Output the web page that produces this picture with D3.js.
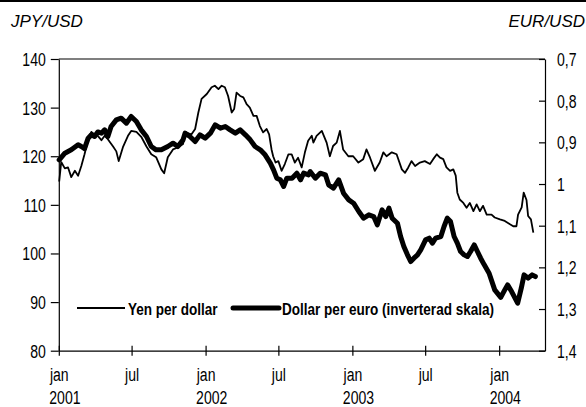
<!DOCTYPE html>
<html>
<head>
<meta charset="utf-8">
<script src="https://cdn.jsdelivr.net/npm/d3@7"></script>
<style>
  html, body { margin: 0; padding: 0; background: #fff; }
  svg { display: block; }
</style>
</head>
<body>
<div class="chart"></div>
<script>
// JPY per USD (thin line)
const yenDates = [
  '2001-01-02','2001-01-07','2001-01-16','2001-01-24','2001-02-01','2001-02-10','2001-02-18','2001-02-26',
  '2001-03-06','2001-03-15','2001-03-23','2001-03-31','2001-04-08','2001-04-17','2001-04-25','2001-05-03',
  '2001-05-16','2001-05-24','2001-05-30','2001-06-10','2001-06-22','2001-06-30','2001-07-13','2001-07-25',
  '2001-08-07','2001-08-19','2001-08-31','2001-09-13','2001-09-20','2001-09-29','2001-10-12','2001-10-24',
  '2001-11-06','2001-11-11','2001-11-27','2001-12-06','2001-12-14','2001-12-22','2002-01-04','2002-01-16',
  '2002-01-24','2002-02-02','2002-02-10','2002-02-18','2002-02-26','2002-03-07','2002-03-13','2002-03-19',
  '2002-03-28','2002-04-05','2002-04-13','2002-04-21','2002-04-30','2002-05-08','2002-05-16','2002-05-24',
  '2002-06-02','2002-06-08','2002-06-14','2002-06-18','2002-06-24','2002-07-01','2002-07-09','2002-07-17',
  '2002-07-26','2002-08-03','2002-08-11','2002-08-19','2002-08-28','2002-09-05','2002-09-13','2002-09-22',
  '2002-09-26','2002-10-04','2002-10-17','2002-10-29','2002-11-06','2002-11-14','2002-11-23','2002-12-01',
  '2002-12-09','2002-12-22','2003-01-03','2003-01-16','2003-01-28','2003-02-05','2003-02-14','2003-02-26',
  '2003-03-10','2003-03-19','2003-03-27','2003-04-09','2003-04-21','2003-05-04','2003-05-12','2003-05-20',
  '2003-05-28','2003-06-06','2003-06-18','2003-06-30','2003-07-13','2003-07-21','2003-07-30','2003-08-07',
  '2003-08-15','2003-08-23','2003-09-01','2003-09-09','2003-09-15','2003-09-19','2003-09-25','2003-10-04',
  '2003-10-12','2003-10-20','2003-10-29','2003-11-06','2003-11-14','2003-11-22','2003-12-01','2003-12-13',
  '2003-12-21','2004-01-03','2004-01-15','2004-01-28','2004-02-05','2004-02-13','2004-02-17','2004-02-26',
  '2004-03-02','2004-03-09','2004-03-13','2004-03-20','2004-03-26'
];
const yenValues = [
  114.8, 118.8, 117.5, 117.7, 115.7, 117.0, 116.0, 118.0,
  120.4, 123.5, 125.0, 124.5, 124.2, 123.3, 124.2, 123.5,
  122.0, 121.0, 119.0, 122.0, 124.2, 125.2, 125.0, 124.0,
  122.0, 120.4, 119.8, 117.3, 116.5, 119.8, 121.4, 121.8,
  122.5, 124.9, 124.5, 125.6, 129.0, 131.8, 132.8, 134.2,
  134.5, 133.8, 134.5, 134.2, 132.4, 129.0, 129.7, 133.1,
  132.4, 132.1, 130.7, 130.0, 128.3, 128.3, 126.2, 124.9,
  125.6, 124.5, 121.4, 120.0, 118.7, 119.0, 117.0, 118.4,
  120.4, 120.4, 118.7, 119.7, 117.7, 120.8, 123.2, 124.2,
  122.8, 124.2, 125.2, 122.8, 120.0, 122.1, 122.8, 125.2,
  121.4, 120.0, 120.0, 118.7, 119.4, 121.4, 119.7, 117.0,
  118.7, 120.8, 120.0, 120.8, 120.4, 117.3, 116.6, 117.7,
  119.0, 118.0, 118.7, 119.0, 118.4, 119.4, 120.4, 119.7,
  119.4, 117.7, 117.0, 117.3, 116.0, 112.5, 111.1, 110.4,
  109.4, 110.4, 108.7, 110.1, 108.7, 109.8, 108.0, 108.0,
  107.4, 107.0, 106.7, 106.0, 105.6, 105.6, 108.0, 109.5,
  112.5, 111.0, 107.7, 107.0, 104.3
];

// USD per EUR (thick line, inverted right scale)
const eurDates = [
  '2001-01-02','2001-01-16','2001-02-01','2001-02-18','2001-02-26','2001-03-06','2001-03-15','2001-03-23',
  '2001-03-31','2001-04-08','2001-04-17','2001-04-25','2001-05-03','2001-05-11','2001-05-24','2001-06-05',
  '2001-06-18','2001-06-30','2001-07-13','2001-07-25','2001-08-07','2001-08-19','2001-08-31','2001-09-13',
  '2001-09-29','2001-10-12','2001-10-24','2001-11-06','2001-11-11','2001-11-23','2001-12-06','2001-12-18',
  '2001-12-31','2002-01-13','2002-01-25','2002-02-07','2002-02-19','2002-03-03','2002-03-16','2002-03-28',
  '2002-04-10','2002-04-22','2002-05-04','2002-05-17','2002-05-29','2002-06-11','2002-06-19','2002-06-27',
  '2002-07-06','2002-07-14','2002-07-22','2002-08-04','2002-08-16','2002-08-25','2002-09-02','2002-09-14',
  '2002-09-18','2002-10-01','2002-10-13','2002-10-26','2002-11-03','2002-11-15','2002-11-28','2002-12-10',
  '2002-12-23','2003-01-04','2003-01-17','2003-01-29','2003-02-11','2003-02-23','2003-03-04','2003-03-16',
  '2003-03-25','2003-04-02','2003-04-10','2003-04-23','2003-05-01','2003-05-09','2003-05-18','2003-05-26',
  '2003-06-03','2003-06-12','2003-06-20','2003-07-02','2003-07-11','2003-07-19','2003-07-27','2003-08-09',
  '2003-08-17','2003-08-25','2003-09-02','2003-09-11','2003-09-19','2003-09-27','2003-10-06','2003-10-14',
  '2003-10-22','2003-10-31','2003-11-08','2003-11-16','2003-11-25','2003-12-07','2003-12-21','2004-01-05',
  '2004-01-15','2004-01-22','2004-02-01','2004-02-16','2004-02-25','2004-03-03','2004-03-13','2004-03-23',
  '2004-03-31'
];
const eurValues = [
  0.942, 0.926, 0.918, 0.906, 0.910, 0.915, 0.890, 0.882,
  0.886, 0.875, 0.878, 0.870, 0.886, 0.862, 0.846, 0.842,
  0.854, 0.838, 0.850, 0.870, 0.886, 0.910, 0.918, 0.918,
  0.910, 0.902, 0.910, 0.894, 0.878, 0.886, 0.898, 0.882,
  0.890, 0.878, 0.858, 0.866, 0.862, 0.870, 0.878, 0.870,
  0.882, 0.894, 0.910, 0.918, 0.930, 0.950, 0.966, 0.986,
  0.990, 1.006, 0.986, 0.986, 0.974, 0.990, 0.974, 0.978,
  0.970, 0.986, 0.974, 0.978, 1.002, 1.010, 0.990, 1.022,
  1.038, 1.046, 1.066, 1.082, 1.074, 1.078, 1.098, 1.062,
  1.078, 1.058, 1.082, 1.094, 1.126, 1.150, 1.170, 1.186,
  1.178, 1.170, 1.158, 1.134, 1.130, 1.142, 1.130, 1.126,
  1.102, 1.082, 1.090, 1.126, 1.142, 1.162, 1.170, 1.174,
  1.162, 1.146, 1.162, 1.178, 1.194, 1.214, 1.254, 1.272,
  1.254, 1.242, 1.258, 1.286, 1.250, 1.218, 1.226, 1.218,
  1.222
];

const leftTicks = [80, 90, 100, 110, 120, 130, 140];
const rightTicks = [0.7, 0.8, 0.9, 1.0, 1.1, 1.2, 1.3, 1.4];
const monthNames = {0: 'jan', 6: 'jul'};
const legendLabels = ['Yen per dollar', 'Dollar per euro (inverterad skala)'];

const width = 586, height = 407;
const sans = '"Liberation Sans", Arial, sans-serif';

// no narrow face installed: squeeze Liberation Sans horizontally
function condense(sel, factor) {
  sel.each(function() {
    const w = this.getComputedTextLength();
    d3.select(this)
      .attr('textLength', w * factor)
      .attr('lengthAdjust', 'spacingAndGlyphs');
  });
}

const svg = d3.select('.chart')
  .append('svg')
  .attr('width', width)
  .attr('height', height);

const plot = { left: 58.8, right: 545, top: 59, bottom: 350.7 };

const parse = d3.timeParse('%Y-%m-%d');
const yen = yenDates.map((d, i) => ({ date: parse(d), value: yenValues[i] }));
const eur = eurDates.map((d, i) => ({ date: parse(d), value: eurValues[i] }));

const xScale = d3.scaleTime()
  .domain([new Date(2001, 0, 1), new Date(2004, 3, 24)])
  .range([plot.left, plot.right]);

const yLeft = d3.scaleLinear()
  .domain([80, 140])
  .range([plot.bottom, plot.top]);

const yRight = d3.scaleLinear()
  .domain([0.7, 1.4])
  .range([plot.top, plot.bottom]);

// top rule
svg.append('line')
  .attr('x1', 0).attr('x2', width)
  .attr('y1', 1).attr('y2', 1)
  .style('stroke', '#000')
  .style('stroke-width', 2);

// unit titles
svg.append('text')
  .attr('x', 11).attr('y', 27)
  .style('font-family', sans)
  .style('font-style', 'italic')
  .style('font-size', '17px')
  .text('JPY/USD');

svg.append('text')
  .attr('x', 585).attr('y', 27)
  .attr('text-anchor', 'end')
  .style('font-family', sans)
  .style('font-style', 'italic')
  .style('font-size', '17px')
  .text('EUR/USD');

// top frame
svg.append('line')
  .attr('x1', plot.left).attr('x2', plot.right)
  .attr('y1', plot.top).attr('y2', plot.top)
  .style('stroke', '#000')
  .style('stroke-width', 1.2);

const leftAxis = svg.append('g')
  .attr('transform', `translate(${plot.left}, 0)`)
  .call(d3.axisLeft(yLeft)
    .tickValues(leftTicks)
    .tickSize(8)
    .tickSizeOuter(0)
    .tickPadding(5)
    .tickFormat(d3.format('d')));

const commaFormat = d => String(d).replace('.', ',');

const rightAxis = svg.append('g')
  .attr('transform', `translate(${plot.right}, 0)`)
  .call(d3.axisRight(yRight)
    .tickValues(rightTicks)
    .tickSize(-6)
    .tickSizeOuter(0)
    .tickPadding(12)
    .tickFormat(commaFormat));

const xTicks = xScale.ticks(d3.timeMonth.every(6));

const bottomAxis = svg.append('g')
  .attr('transform', `translate(0, ${plot.bottom})`)
  .call(d3.axisBottom(xScale)
    .tickValues(xTicks)
    .tickSize(5)
    .tickSizeOuter(0)
    .tickFormat(''));

bottomAxis.selectAll('.tick line').attr('y1', -5).attr('y2', 5);

const tickLabels = bottomAxis.selectAll('.tick');
tickLabels.append('text')
  .attr('x', 0).attr('y', 30)
  .attr('text-anchor', 'middle')
  .text(d => monthNames[d.getMonth()]);
tickLabels.filter(d => d.getMonth() === 0)
  .append('text')
  .attr('x', -10).attr('y', 53)
  .attr('text-anchor', 'start')
  .text(d => d.getFullYear());

[leftAxis, rightAxis, bottomAxis].forEach(g => {
  g.selectAll('path, line')
    .style('stroke', '#000')
    .style('stroke-width', 1.2);
  g.selectAll('text')
    .attr('dy', null)
    .style('fill', '#000')
    .style('font-family', sans)
    .style('font-size', '18px');
});
leftAxis.selectAll('text').attr('dy', '0.36em');
rightAxis.selectAll('text').attr('dy', '0.36em');
[leftAxis, rightAxis, bottomAxis].forEach(g => condense(g.selectAll('text'), 0.78));

// series
const yenLine = d3.line()
  .x(d => xScale(d.date))
  .y(d => yLeft(d.value));

const eurLine = d3.line()
  .x(d => xScale(d.date))
  .y(d => yRight(d.value));

svg.append('path')
  .datum(eur)
  .attr('d', eurLine)
  .style('fill', 'none')
  .style('stroke', '#000')
  .style('stroke-width', 5)
  .style('stroke-linejoin', 'round')
  .style('stroke-linecap', 'round');

svg.append('path')
  .datum(yen)
  .attr('d', yenLine)
  .style('fill', 'none')
  .style('stroke', '#000')
  .style('stroke-width', 1.8)
  .style('stroke-linejoin', 'round');

// legend
const legend = svg.append('g').attr('transform', 'translate(0, 308)');
const legendItems = [
  { x1: 77, x2: 125, tx: 128, w: 1.8, label: legendLabels[0] },
  { x1: 233, x2: 279, tx: 282, w: 5, label: legendLabels[1] }
];
legendItems.forEach(item => {
  legend.append('line')
    .attr('x1', item.x1).attr('x2', item.x2)
    .attr('y1', 0).attr('y2', 0)
    .style('stroke', '#000')
    .style('stroke-width', item.w)
    .style('stroke-linecap', item.w > 2 ? 'round' : 'butt');
  legend.append('text')
    .attr('x', item.tx).attr('y', 7)
    .style('font-family', sans)
    .style('font-weight', 'bold')
    .style('font-size', '16.5px')
    .text(item.label)
    .call(condense, 0.82);
});
</script>
</body>
</html>
